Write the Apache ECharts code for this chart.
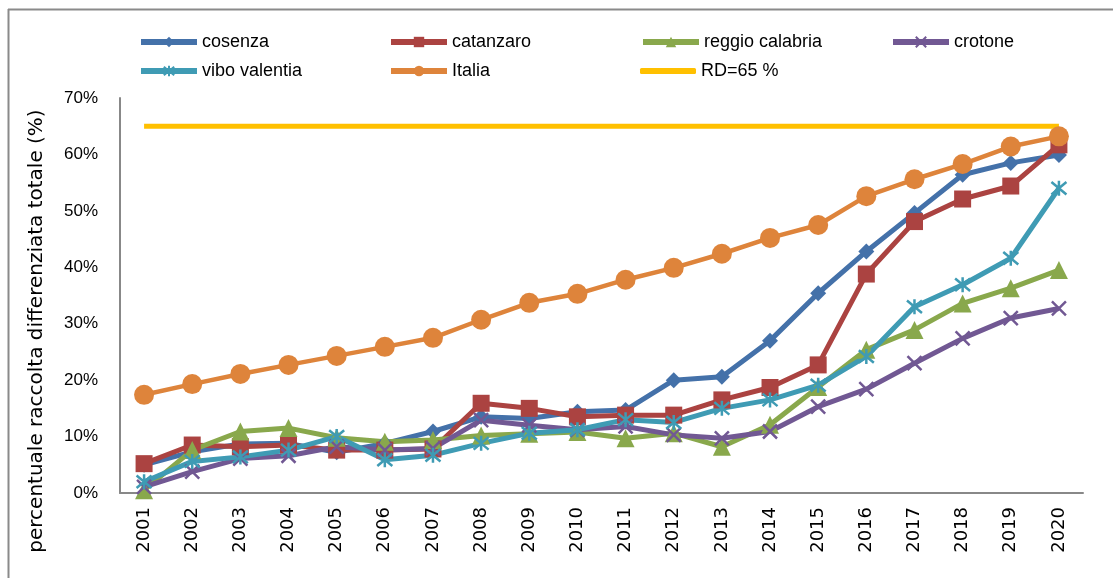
<!DOCTYPE html>
<html lang="it">
<head>
<meta charset="UTF-8">
<title>Raccolta differenziata</title>
<script src="https://cdn.jsdelivr.net/npm/echarts@6/dist/echarts.min.js"></script>
<style>
  html, body { margin: 0; padding: 0; background: #fff; }
</style>
</head>
<body>
<div id="main" style="width: 1113px;height: 578px"></div>
<script>
  const years = ['2001','2002','2003','2004','2005','2006','2007','2008','2009','2010',
                 '2011','2012','2013','2014','2015','2016','2017','2018','2019','2020'];
  // valori in %
  const cosenza   = [5.0, 7.3, 8.7, 8.8, 7.2, 8.8, 10.9, 13.5, 13.2, 14.4, 14.7, 20.0, 20.6, 27.0, 35.4, 42.8, 49.6, 56.4, 58.5, 59.9];
  const catanzaro = [5.2, 8.5, 8.2, 8.5, 7.6, 7.6, 7.8, 15.9, 15.0, 13.5, 13.8, 13.8, 16.5, 18.7, 22.7, 38.8, 48.1, 52.1, 54.4, 61.7];
  const reggio    = [0.5, 7.6, 10.9, 11.5, 9.8, 9.1, 9.4, 10.2, 10.5, 10.8, 9.7, 10.6, 8.2, 12.1, 18.8, 25.4, 28.9, 33.6, 36.3, 39.5];
  const crotone   = [1.1, 3.8, 6.1, 6.6, 8.2, 7.6, 7.9, 12.9, 12.0, 11.2, 11.8, 10.3, 9.7, 10.9, 15.3, 18.4, 23.0, 27.4, 31.0, 32.7];
  const vibo      = [2.0, 5.6, 6.4, 7.6, 10.0, 5.9, 6.7, 8.8, 10.6, 11.2, 13.0, 12.5, 15.0, 16.5, 19.1, 24.2, 33.0, 36.9, 41.6, 54.0];
  const italia    = [17.4, 19.3, 21.1, 22.7, 24.3, 25.9, 27.5, 30.7, 33.7, 35.3, 37.8, 39.9, 42.4, 45.2, 47.5, 52.6, 55.6, 58.3, 61.4, 63.2];
  const rd        = years.map(function () { return 65; });
  const yTicks    = [0, 10, 20, 30, 40, 50, 60, 70];

  const xPath = 'path://M0,0L10,10M10,0L0,10';
  const starPath = 'path://M0,0L10,10M10,0L0,10M5,-1L5,11';

  function lineSeries(name, data, color, symbol, size, extra) {
    var s = {
      name: name,
      type: 'line',
      data: data,
      symbol: symbol,
      symbolSize: size,
      showAllSymbol: true,
      lineStyle: { color: color, width: 5 },
      itemStyle: { color: color },
      animation: false
    };
    return Object.assign(s, extra || {});
  }

  var chart = echarts.init(document.getElementById('main'));
  var legendFont = { fontFamily: 'Liberation Sans', fontSize: 18, color: '#000' };
  function leg(name, left, top, icon) {
    var l = {
      data: [icon ? { name: name, icon: icon } : name],
      left: left, top: top, itemWidth: 56, itemHeight: icon ? 6 : 13,
      itemGap: 4, padding: 0, textStyle: legendFont,
      lineStyle: { width: 6 }
    };
    return l;
  }

  var option = {
    backgroundColor: '#fff',
    legend: [
      leg('cosenza', 138, 33), leg('catanzaro', 388, 33), leg('reggio calabria', 640, 33), leg('crotone', 890, 33),
      leg('vibo valentia', 138, 62), leg('Italia', 388, 62), leg('RD=65 %', 640, 62, 'roundRect')
    ],
    grid: { left: 120, right: 30, top: 98, bottom: 85 },
    xAxis: {
      type: 'category',
      data: years,
      boundaryGap: true,
      axisLine: { lineStyle: { color: '#888', width: 2 } },
      axisTick: { show: false },
      axisLabel: { rotate: 90, margin: 14, fontFamily: 'DejaVu Sans', fontSize: 18, color: '#000', interval: 0 }
    },
    yAxis: {
      type: 'value',
      min: 0, max: 70, interval: 10,
      axisLine: { show: true, lineStyle: { color: '#888', width: 2 } },
      axisTick: { show: false },
      splitLine: { show: false },
      axisLabel: {
        margin: 22, fontFamily: 'Liberation Sans', fontSize: 17, color: '#000',
        formatter: function (v) { return yTicks.indexOf(v) >= 0 ? v + '%' : ''; }
      }
    },
    graphic: [
      { type: 'line', shape: { x1: 8, y1: 9.5, x2: 1113, y2: 9.5 }, style: { stroke: '#8a8a8a', lineWidth: 2 } },
      { type: 'line', shape: { x1: 8.5, y1: 9, x2: 8.5, y2: 578 }, style: { stroke: '#8a8a8a', lineWidth: 2 } },
      {
        type: 'text', x: 37, y: 331, rotation: Math.PI / 2,
        style: {
          text: 'percentuale raccolta differenziata totale (%)',
          fontFamily: 'DejaVu Sans', fontSize: 20, fill: '#000',
          textAlign: 'center', textVerticalAlign: 'middle'
        }
      }
    ],
    series: [
      lineSeries('cosenza', cosenza, '#4471a9', 'diamond', 16),
      lineSeries('catanzaro', catanzaro, '#ab4341', 'rect', 17),
      lineSeries('reggio calabria', reggio, '#89a84c', 'triangle', 18),
      lineSeries('crotone', crotone, '#715893', xPath, 14, {
        itemStyle: { color: 'none', borderColor: '#715893', borderWidth: 2.5 }
      }),
      lineSeries('vibo valentia', vibo, '#3f9bb4', starPath, 15, {
        itemStyle: { color: 'none', borderColor: '#3f9bb4', borderWidth: 2.5 }
      }),
      lineSeries('Italia', italia, '#de843b', 'circle', 20, { lineStyle: { color: '#de843b', width: 4.5 } }),
      lineSeries('RD=65 %', rd, '#ffc000', 'none', 0, { lineStyle: { color: '#ffc000', width: 5 } })
    ]
  };
  chart.setOption(option);
</script>
</body>
</html>
